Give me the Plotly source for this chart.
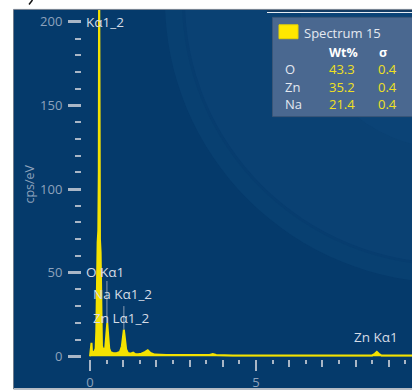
import plotly.graph_objects as go

# ---- spectrum data (energy in keV, intensity in cps/eV) ----
energy_kev = [0.00, 0.02, 0.035, 0.045, 0.06, 0.08, 0.10, 0.14, 0.17, 0.19, 0.20, 0.21,
              0.23, 0.25, 0.265, 0.275, 0.285, 0.30, 0.32, 0.33, 0.34, 0.36, 0.39,
              0.42, 0.46, 0.49, 0.52, 0.55, 0.58, 0.62, 0.70, 0.80, 0.90, 0.96,
              1.00, 1.02, 1.05, 1.09, 1.14, 1.22, 1.30, 1.36, 1.45, 1.55, 1.65,
              1.74, 1.82, 1.95, 2.3, 2.8, 3.3, 3.6, 3.7, 3.8, 4.3, 5.0, 6.0, 7.0,
              8.0, 8.5, 8.58, 8.64, 8.70, 8.78, 9.2, 9.7]
intensity = [0.0, 3.0, 5.0, 8.0, 3.0, 2.5, 2.5, 3.0, 4.5, 15, 45, 62,
             68, 75, 110, 240, 110, 70, 62, 40, 15, 6, 4.5,
             4.0, 5.0, 12, 20, 12, 4.5, 2.5, 1.8, 1.8, 2.5, 6.0,
             13, 16, 11, 4.0, 2.0, 1.5, 2.2, 1.3, 1.2, 1.5, 2.5,
             3.6, 2.0, 1.0, 0.8, 0.6, 0.6, 0.7, 1.3, 0.7, 0.5, 0.5, 0.4, 0.4,
             0.4, 0.5, 1.5, 2.6, 1.5, 0.4, 0.4, 0.4]

# ---- peak identification labels ----
peak_names = ["Kα1_2", "O Kα1", "Na Kα1_2", "Zn Lα1_2", "Zn Kα1"]
peak_label_x = [-0.19, -0.19, 0.02, 0.02, 8.60]
peak_label_y = [200, 50.5, 37, 23, 11.5]
peak_anchor = ["left", "left", "left", "left", "center"]
# marker lines: energy, bottom (peak top) and top of line
marker_energy = [0.51, 1.02]
marker_bottom = [20, 16]
marker_top = [45, 30]

# ---- axis ticks ----
x_label_ticks = [0, 5]
x_unit_ticks = [0, 1, 2, 3, 4, 5, 6, 7, 8, 9]
x_half_ticks = [0.5, 1.5, 2.5, 3.5, 4.5, 5.5, 6.5, 7.5, 8.5, 9.5]
y_label_ticks = [0, 50, 100, 150, 200]
y_minor_ticks = [10, 20, 30, 40, 60, 70, 80, 90, 110, 120, 130, 140,
                 160, 170, 180, 190]

# ---- quantification table ----
table_elements = ["O", "Zn", "Na"]
table_wt = ["43.3", "35.2", "21.4"]
table_sigma = ["0.4", "0.4", "0.4"]
spectrum_name = "Spectrum 15"

# ---- figure geometry ----
W, H = 412, 391
PX0, PX1 = 14, 412       # panel left/right (px)
PY0, PY1 = 10, 391       # panel top/bottom (px)
X_RANGE = [-2.289, 9.699]
Y_RANGE = [-18.99, 207.1]

BG = "#053a6b"
YELLOW = "#f4e200"
TICK = "#aab6c6"
TICKLBL = "#8ea2bc"
LBL = "#d6dce6"
FONT = "Open Sans"


def fx(px):
    return px / W


def fy(py):
    return 1 - py / H


def dx(px):
    return X_RANGE[0] + (px - PX0) / (PX1 - PX0) * (X_RANGE[1] - X_RANGE[0])


def dy(py):
    return Y_RANGE[1] - (py - PY0) / (PY1 - PY0) * (Y_RANGE[1] - Y_RANGE[0])


fig = go.Figure()

# spectrum
fig.add_trace(go.Scatter(
    x=energy_kev, y=intensity, mode="lines", fill="tozeroy",
    line=dict(color=YELLOW, width=2), fillcolor=YELLOW,
    hoverinfo="skip", showlegend=False))

# thin marker lines from labels down to peaks
mx, my = [], []
for e, b, t in zip(marker_energy, marker_bottom, marker_top):
    mx += [e, e, None]
    my += [b, t, None]
fig.add_trace(go.Scatter(
    x=mx, y=my, mode="lines", xaxis="x2",
    line=dict(color="#8c9cb2", width=1),
    hoverinfo="skip", showlegend=False))

# background rings (clipped to the plot area by using data refs)
def ring(cx, cy, r, color, opacity):
    return dict(type="circle", xref="x", yref="y", layer="below",
                x0=dx(cx - r), x1=dx(cx + r), y0=dy(cy + r), y1=dy(cy - r),
                fillcolor=color, opacity=opacity, line=dict(width=0))

shapes = [
    ring(450, 0, 285, "#0c4577", 0.5),
    ring(450, 0, 268, "#073d6f", 1.0),
    ring(450, 0, 265, "#0a4274", 0.85),
    ring(450, 0, 150, "#0d4678", 0.55),
]

# panel outline and top rules
shapes += [
    dict(type="rect", xref="paper", yref="paper", x0=fx(13.5), x1=fx(413), y0=fy(392),
         y1=fy(9.5), line=dict(color="#6f7c8c", width=1)),
    dict(type="line", xref="paper", yref="paper", x0=fx(267), x1=fx(412), y0=fy(11),
         y1=fy(11), line=dict(color="#1d3550", width=1)),
    dict(type="line", xref="paper", yref="paper", x0=fx(267), x1=fx(412), y0=fy(12.6),
         y1=fy(12.6), line=dict(color="#e6ecf2", width=1.2)),
    dict(type="line", xref="paper", yref="paper", x0=fx(29), x1=fx(32.5), y0=fy(4.5),
         y1=fy(0), line=dict(color="#111111", width=1.5)),
    # quantification box
    dict(type="rect", xref="paper", yref="paper", x0=fx(272.5), x1=fx(416), y0=fy(117.5),
         y1=fy(17.5), fillcolor="#4a6890", line=dict(color="#3a5678", width=1)),
    dict(type="rect", xref="paper", yref="paper", x0=fx(279), x1=fx(298), y0=fy(39),
         y1=fy(25), fillcolor="#ffe800", line=dict(color="#e8d400", width=1)),
]

annotations = []
for name, x, y, anc in zip(peak_names, peak_label_x, peak_label_y, peak_anchor):
    annotations.append(dict(x=x, y=y, xref="x", yref="y", text=name, showarrow=False,
                            xanchor=anc, yanchor="middle",
                            font=dict(family=FONT, size=13.5, color=LBL)))

annotations.append(dict(x=fx(30), y=fy(185), xref="paper", yref="paper", text="cps/eV",
                        textangle=-90, showarrow=False, xanchor="center", yanchor="middle",
                        font=dict(family=FONT, size=12.5, color=TICKLBL)))

box_font = dict(family=FONT, size=13, color="#e4e9f0")
annotations.append(dict(x=fx(302), y=fy(33), xref="paper", yref="paper", text=spectrum_name,
                        showarrow=False, xanchor="left", yanchor="middle", font=box_font))
annotations.append(dict(x=fx(327), y=fy(53), xref="paper", yref="paper", text="<b>Wt%</b>",
                        showarrow=False, xanchor="left", yanchor="middle",
                        font=dict(family=FONT, size=12.5, color="#ffffff")))
annotations.append(dict(x=fx(377), y=fy(53), xref="paper", yref="paper", text="<b>σ</b>",
                        showarrow=False, xanchor="left", yanchor="middle",
                        font=dict(family=FONT, size=12.5, color="#ffffff")))
for i, (el, wt, sg) in enumerate(zip(table_elements, table_wt, table_sigma)):
    yy = fy(70 + i * 17.5)
    annotations.append(dict(x=fx(283), y=yy, xref="paper", yref="paper", text=el,
                            showarrow=False, xanchor="left", yanchor="middle", font=box_font))
    annotations.append(dict(x=fx(327), y=yy, xref="paper", yref="paper", text=wt,
                            showarrow=False, xanchor="left", yanchor="middle",
                            font=dict(family=FONT, size=13, color="#f0e020")))
    annotations.append(dict(x=fx(376), y=yy, xref="paper", yref="paper", text=sg,
                            showarrow=False, xanchor="left", yanchor="middle",
                            font=dict(family=FONT, size=13, color="#f0e020")))

X_AXIS_POS = (H - 362) / H
Y_AXIS_POS = 81 / W

fig.update_layout(
    width=W, height=H,
    margin=dict(l=0, r=0, t=0, b=0),
    paper_bgcolor="white", plot_bgcolor=BG,
    showlegend=False,
    xaxis=dict(domain=[fx(PX0), 1], range=X_RANGE, anchor="free", position=X_AXIS_POS,
               showgrid=False, zeroline=False, showline=False,
               tickvals=x_label_ticks, ticks="outside", ticklen=11, tickwidth=2,
               tickcolor=TICK,
               tickfont=dict(family=FONT, size=13, color=TICKLBL)),
    xaxis2=dict(domain=[fx(PX0), 1], range=X_RANGE, overlaying="x", anchor="free",
                position=X_AXIS_POS, showgrid=False, zeroline=False, showline=False,
                tickvals=x_unit_ticks, ticks="outside", ticklen=7, tickwidth=2,
                tickcolor=TICK, showticklabels=False,
                minor=dict(tickvals=x_half_ticks, ticks="outside", ticklen=4, tickwidth=2,
                           tickcolor=TICK, showgrid=False)),
    yaxis=dict(domain=[0, fy(PY0)], range=Y_RANGE, anchor="free", position=Y_AXIS_POS,
               showgrid=False, zeroline=False, showline=False,
               tickvals=y_label_ticks, ticks="outside", ticklen=13, tickwidth=2.5,
               tickcolor=TICK, ticklabelstandoff=3,
               tickfont=dict(family=FONT, size=13, color=TICKLBL),
               minor=dict(tickvals=y_minor_ticks, ticks="outside", ticklen=6, tickwidth=2,
                          tickcolor=TICK, showgrid=False)),
    shapes=shapes,
    annotations=annotations,
)

fig.write_html("out.html")
